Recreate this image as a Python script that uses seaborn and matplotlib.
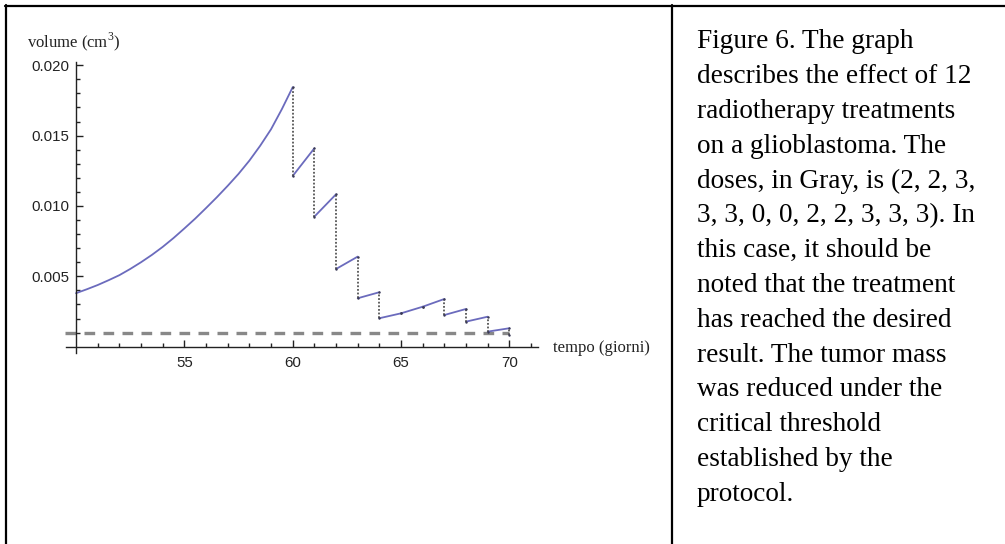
import numpy as np
import pandas as pd
import matplotlib
matplotlib.use("Agg")
import matplotlib.pyplot as plt
from matplotlib.lines import Line2D
import seaborn as sns

# free growth before therapy (day, volume in cm^3), read every half day
growth_days = [50, 50.5, 51, 51.5, 52, 52.5, 53, 53.5, 54, 54.5, 55,
               55.5, 56, 56.5, 57, 57.5, 58, 58.5, 59, 59.5, 60]
growth_vol = [0.00380, 0.00408, 0.00438, 0.00472, 0.00508, 0.00552, 0.00600,
              0.00652, 0.00709, 0.00772, 0.00840, 0.00910, 0.00985, 0.01062,
              0.01143, 0.01228, 0.01322, 0.01428, 0.01545, 0.01688, 0.01844]

# treatment days: volume just before and just after each fraction
treat_days = [60, 61, 62, 63, 64, 65, 66, 67, 68, 69, 70]
vol_before = [0.01844, 0.01410, 0.01083, 0.00640, 0.00387, 0.00237,
              0.00284, 0.00339, 0.00268, 0.00213, 0.00131]
vol_after = [0.01213, 0.00924, 0.00552, 0.00344, 0.00202, 0.00237,
             0.00284, 0.00225, 0.00178, 0.00107, 0.00083]
doses = [2, 2, 3, 3, 3, 0, 0, 2, 2, 3, 3, 3]

threshold = 0.001
x_major = [55, 60, 65, 70]
y_major = [0.005, 0.010, 0.015, 0.020]

caption = [
    "Figure 6. The graph",
    "describes the effect of 12",
    "radiotherapy treatments",
    "on a glioblastoma. The",
    "doses, in Gray, is (" + ", ".join(str(d) for d in doses[:3]) + ",",
    ", ".join(str(d) for d in doses[3:]) + "). In",
    "this case, it should be",
    "noted that the treatment",
    "has reached the desired",
    "result. The tumor mass",
    "was reduced under the",
    "critical threshold",
    "established by the",
    "protocol.",
]

# build one table of line pieces: the free growth, then one piece per day
rows = [dict(t=d, v=v, seg=0) for d, v in zip(growth_days, growth_vol)]
for i in range(len(treat_days) - 1):
    rows.append(dict(t=treat_days[i], v=vol_after[i], seg=i + 1))
    rows.append(dict(t=treat_days[i + 1], v=vol_before[i + 1], seg=i + 1))
df = pd.DataFrame(rows)

sns.set_theme(style="white")
plt.rcParams["font.family"] = ["Liberation Serif", "DejaVu Serif"]
plt.rcParams["mathtext.fontset"] = "custom"
plt.rcParams["mathtext.rm"] = "Liberation Serif"

fig = plt.figure(figsize=(10.05, 5.44), dpi=100)
ax = fig.add_axes([0.0627, 0.3524, 0.4765, 0.5432])
ax.set_facecolor("white")

curve = "#6b6bbd"
sns.lineplot(data=df, x="t", y="v", units="seg", estimator=None,
             color=curve, lw=1.3, ax=ax, legend=False)

# dotted drops at each fraction
drop = [(d, b, a) for d, b, a in zip(treat_days, vol_before, vol_after) if b != a]
ax.vlines([d for d, _, _ in drop], [a for _, _, a in drop], [b for _, b, _ in drop],
          colors="#555555", linestyles=(0, (1, 1)), lw=1.3, zorder=3)
ax.scatter(treat_days + treat_days, vol_before + vol_after, s=3,
           color="#3a3a55", zorder=4, linewidths=0)

# critical threshold
ax.hlines(threshold, 49.5, 70, colors="#888888", linestyles=(0, (3.2, 2.5)), lw=2.4, zorder=1)

ax.set_xlim(49.4, 71.5)
ax.set_ylim(-0.0004, 0.0206)

for s in ["top", "right"]:
    ax.spines[s].set_visible(False)
ax.spines["left"].set_position(("data", 50))
ax.spines["bottom"].set_position(("data", 0))
ax.spines["left"].set_bounds(-0.00045, 0.0202)
ax.spines["bottom"].set_bounds(49.55, 71.3)
for s in ["left", "bottom"]:
    ax.spines[s].set_color("#222222")
    ax.spines[s].set_linewidth(1.0)

ax.set_xticks(x_major)
ax.set_xticks(np.arange(51, 72), minor=True)
ax.set_yticks(y_major)
ax.set_yticks(np.arange(0.001, 0.0201, 0.001), minor=True)
ax.set_yticklabels([f"{v:.3f}" for v in y_major])
ax.tick_params(which="both", direction="in", color="#222222", width=1.0,
               bottom=True, left=True)
ax.tick_params(which="major", length=5)
ax.tick_params(which="minor", length=3)
ax.tick_params(axis="x", which="major", pad=6.5)
ax.tick_params(axis="y", which="major", pad=5)
for lab in ax.get_xticklabels() + ax.get_yticklabels():
    lab.set_fontfamily("Liberation Sans")
    lab.set_fontsize(10.8)
    lab.set_color("#222222")
ax.set_xlabel("")
ax.set_ylabel("")

fig.text(27 / 1005, 1 - 42 / 544, "volume (cm$^3$)", fontsize=12, va="center",
         ha="left", color="#222222")
fig.text(553 / 1005, 1 - 348 / 544, "tempo (giorni)", fontsize=12, va="center",
         ha="left", color="#222222")

# caption
for i, line in enumerate(caption):
    fig.text(697 / 1005, 1 - (42 + 34.8 * i) / 544, line, fontsize=19.6,
             va="center", ha="left", color="black")

# table borders
kw = dict(color="black", lw=1.6, transform=fig.transFigure)
fig.add_artist(Line2D([5 / 1005, 1], [1 - 6 / 544, 1 - 6 / 544], **kw))
fig.add_artist(Line2D([6 / 1005, 6 / 1005], [0, 1 - 5 / 544], **kw))
fig.add_artist(Line2D([672 / 1005, 672 / 1005], [0, 1 - 5 / 544], **kw))

fig.savefig("out.png", dpi=100)
